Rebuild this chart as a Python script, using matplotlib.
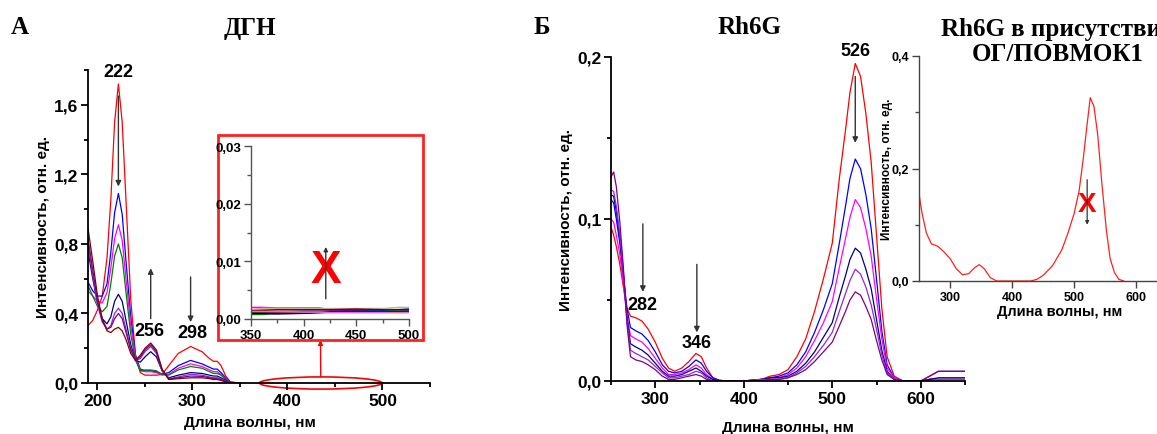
import matplotlib
matplotlib.use("Agg")
import matplotlib.pyplot as plt
from matplotlib.patches import Rectangle, Ellipse
from matplotlib.ticker import MultipleLocator, FuncFormatter

plt.rcParams['font.family'] = ['Liberation Sans', 'DejaVu Sans']
plt.rcParams['font.weight'] = 'bold'
plt.rcParams['axes.labelweight'] = 'bold'

# ---- panel A: ДГН ----
wl_a = [190, 195, 200, 205, 210, 214, 218, 222, 226, 230, 235, 240, 245, 250,
        256, 262, 268, 275, 285, 298, 310, 318, 322, 326, 330, 335, 340, 350]
a_red = [0.33, 0.36, 0.42, 0.50, 0.72, 1.05, 1.50, 1.72, 1.50, 1.05, 0.48, 0.16, 0.06, 0.045,
         0.045, 0.045, 0.05, 0.10, 0.17, 0.21, 0.18, 0.14, 0.125, 0.125, 0.10, 0.04, 0.005, 0.0]
a_blue = [0.58, 0.53, 0.50, 0.50, 0.57, 0.75, 0.98, 1.09, 0.97, 0.70, 0.38, 0.16, 0.08, 0.07,
          0.07, 0.065, 0.05, 0.06, 0.10, 0.13, 0.11, 0.09, 0.08, 0.08, 0.06, 0.03, 0.005, 0.0]
a_magenta = [0.53, 0.50, 0.47, 0.46, 0.52, 0.66, 0.83, 0.91, 0.82, 0.60, 0.33, 0.15, 0.07, 0.065,
             0.065, 0.06, 0.045, 0.05, 0.085, 0.11, 0.095, 0.075, 0.065, 0.065, 0.05, 0.025, 0.004, 0.0]
a_green = [0.56, 0.50, 0.44, 0.41, 0.44, 0.57, 0.73, 0.80, 0.72, 0.52, 0.28, 0.13, 0.07, 0.075,
           0.075, 0.07, 0.05, 0.045, 0.075, 0.095, 0.085, 0.065, 0.055, 0.055, 0.045, 0.02, 0.003, 0.0]
a_navy = [0.76, 0.60, 0.46, 0.37, 0.34, 0.38, 0.47, 0.51, 0.47, 0.36, 0.22, 0.13, 0.12, 0.15,
          0.18, 0.15, 0.07, 0.03, 0.045, 0.06, 0.055, 0.045, 0.04, 0.04, 0.03, 0.015, 0.002, 0.0]
a_violet = [0.80, 0.62, 0.45, 0.35, 0.31, 0.33, 0.40, 0.43, 0.40, 0.31, 0.20, 0.13, 0.14, 0.18,
            0.21, 0.17, 0.07, 0.025, 0.035, 0.05, 0.045, 0.035, 0.03, 0.03, 0.025, 0.01, 0.002, 0.0]
a_purple = [0.83, 0.65, 0.47, 0.36, 0.31, 0.32, 0.37, 0.40, 0.37, 0.29, 0.19, 0.13, 0.15, 0.19,
            0.22, 0.18, 0.075, 0.022, 0.03, 0.04, 0.038, 0.03, 0.025, 0.025, 0.02, 0.008, 0.001, 0.0]
a_maroon = [0.89, 0.70, 0.50, 0.37, 0.30, 0.29, 0.31, 0.32, 0.30, 0.25, 0.17, 0.13, 0.16, 0.20,
            0.23, 0.19, 0.08, 0.02, 0.025, 0.03, 0.03, 0.025, 0.02, 0.02, 0.015, 0.006, 0.001, 0.0]
a_series = [a_red, a_blue, a_magenta, a_green, a_navy, a_violet, a_purple, a_maroon]
a_colors = ['#ff0000', '#0000ff', '#ff00ff', '#008000', '#000080', '#8a2be2', '#800080', '#800000']

# inset of A, 350-500 nm
wl_ins = [350, 360, 375, 400, 415, 425, 450, 475, 490, 500]
ins_lines = [
    [0.0020, 0.0020, 0.0019, 0.0019, 0.0019, 0.0016, 0.0015, 0.0015, 0.0014, 0.0014],
    [0.0016, 0.0018, 0.0018, 0.0018, 0.0018, 0.0018, 0.0018, 0.0018, 0.0020, 0.0020],
    [0.0014, 0.0015, 0.0016, 0.0016, 0.0016, 0.0016, 0.0017, 0.0016, 0.0015, 0.0015],
    [0.0012, 0.0012, 0.0012, 0.0013, 0.0013, 0.0013, 0.0014, 0.0015, 0.0016, 0.0017],
    [0.0008, 0.0008, 0.0010, 0.0011, 0.0012, 0.0012, 0.0013, 0.0013, 0.0014, 0.0014],
    [0.0011, 0.0011, 0.0011, 0.0012, 0.0012, 0.0013, 0.0013, 0.0012, 0.0013, 0.0013],
    [0.0010, 0.0010, 0.0009, 0.0010, 0.0011, 0.0012, 0.0012, 0.0012, 0.0012, 0.0012],
    [0.0013, 0.0013, 0.0013, 0.0012, 0.0012, 0.0011, 0.0011, 0.0011, 0.0011, 0.0011],
]
ins_colors = ['#ff00ff', '#c8b88a', '#800000', '#0000ff', '#008000', '#800080', '#000000', '#e070c0']

# ---- panel Б: Rh6G ----
wl_b = [250, 253, 256, 260, 264, 268, 272, 278, 285, 292, 300, 308, 315, 322, 330, 338,
        346, 352, 358, 365, 372, 380, 400, 420, 430, 440, 450, 460, 470, 480, 490, 500,
        508, 515, 520, 526, 532, 538, 544, 550, 556, 562, 570, 580, 600, 610, 620, 650]
b_red = [0.095, 0.090, 0.083, 0.072, 0.058, 0.045, 0.040, 0.039, 0.037, 0.032, 0.024, 0.014,
         0.008, 0.006, 0.008, 0.012, 0.017, 0.015, 0.008, 0.002, 0.0005, 0.0, 0.0, 0.001,
         0.003, 0.004, 0.007, 0.015, 0.026, 0.043, 0.063, 0.085, 0.125, 0.155, 0.178, 0.196,
         0.188, 0.165, 0.135, 0.090, 0.045, 0.015, 0.003, 0.0, 0.0, 0.001, 0.001, 0.001]
b_blue = [0.112, 0.110, 0.100, 0.085, 0.065, 0.045, 0.033, 0.031, 0.029, 0.025, 0.018, 0.010,
          0.006, 0.005, 0.006, 0.009, 0.013, 0.011, 0.006, 0.002, 0.0005, 0.0, 0.0, 0.001,
          0.002, 0.003, 0.005, 0.010, 0.018, 0.030, 0.044, 0.060, 0.085, 0.108, 0.125, 0.137,
          0.131, 0.115, 0.094, 0.063, 0.031, 0.010, 0.002, 0.0, 0.0, 0.001, 0.001, 0.001]
b_magenta = [0.100, 0.098, 0.090, 0.078, 0.060, 0.040, 0.028, 0.026, 0.024, 0.020, 0.014, 0.008,
             0.004, 0.004, 0.005, 0.007, 0.010, 0.008, 0.004, 0.001, 0.0, 0.0, 0.0, 0.001,
             0.002, 0.002, 0.004, 0.008, 0.015, 0.025, 0.036, 0.049, 0.070, 0.088, 0.101, 0.112,
             0.107, 0.094, 0.077, 0.051, 0.026, 0.008, 0.002, 0.0, 0.0, 0.001, 0.001, 0.001]
b_navy = [0.115, 0.114, 0.105, 0.088, 0.066, 0.040, 0.023, 0.021, 0.019, 0.016, 0.011, 0.006,
          0.003, 0.003, 0.004, 0.006, 0.008, 0.006, 0.003, 0.001, 0.0, 0.0, 0.0, 0.001,
          0.002, 0.002, 0.003, 0.006, 0.011, 0.018, 0.027, 0.036, 0.052, 0.065, 0.075, 0.082,
          0.079, 0.069, 0.057, 0.038, 0.019, 0.006, 0.001, 0.0, 0.0, 0.001, 0.002, 0.002]
b_violet = [0.118, 0.117, 0.108, 0.090, 0.067, 0.038, 0.019, 0.017, 0.015, 0.013, 0.009, 0.005,
            0.002, 0.002, 0.003, 0.004, 0.006, 0.005, 0.002, 0.0, 0.0, 0.0, 0.0, 0.001,
            0.001, 0.001, 0.002, 0.005, 0.009, 0.015, 0.022, 0.030, 0.043, 0.054, 0.062, 0.069,
            0.066, 0.058, 0.047, 0.032, 0.016, 0.005, 0.001, 0.0, 0.0, 0.003, 0.006, 0.006]
b_purple = [0.126, 0.129, 0.120, 0.098, 0.070, 0.035, 0.015, 0.013, 0.012, 0.010, 0.007, 0.003,
            0.001, 0.001, 0.002, 0.003, 0.004, 0.003, 0.001, 0.0, 0.0, 0.0, 0.0, 0.0,
            0.001, 0.001, 0.002, 0.004, 0.007, 0.012, 0.018, 0.024, 0.034, 0.043, 0.050, 0.055,
            0.053, 0.046, 0.038, 0.025, 0.013, 0.004, 0.001, 0.0, 0.0, 0.003, 0.006, 0.006]
b_series = [b_red, b_blue, b_magenta, b_navy, b_violet, b_purple]
b_colors = ['#ff0000', '#0000ff', '#ff00ff', '#000080', '#8a2be2', '#800080']

# ---- inset: Rh6G в присутствии ОГ/ПОВМОК1 ----
wl_c = [250, 255, 262, 270, 280, 290, 300, 310, 320, 330, 340, 347, 355, 365, 375, 400, 430,
        440, 450, 465, 480, 490, 500, 508, 515, 520, 526, 532, 538, 545, 552, 558, 565, 572, 580]
c_red = [0.155, 0.12, 0.085, 0.066, 0.062, 0.052, 0.040, 0.022, 0.011, 0.013, 0.024, 0.029,
         0.022, 0.006, 0.0, 0.0, 0.0, 0.003, 0.01, 0.027, 0.055, 0.085, 0.12, 0.16, 0.22, 0.27,
         0.326, 0.31, 0.26, 0.17, 0.09, 0.04, 0.015, 0.003, 0.0]

W, H = 1157, 435
fig = plt.figure(figsize=(W / 100, H / 100), dpi=100)


def box(l, r, t, b):
    return [l / W, 1 - b / H, (r - l) / W, (b - t) / H]


def comma(nd):
    return FuncFormatter(lambda v, p: f"{v:.{nd}f}".replace('.', ','))


def style(ax, size, lw=1.3, col='black'):
    for s in ['top', 'right']:
        ax.spines[s].set_visible(False)
    for s in ['left', 'bottom']:
        ax.spines[s].set_linewidth(lw)
        ax.spines[s].set_color(col)
    ax.tick_params(which='both', direction='out', width=lw, color=col, labelsize=size, pad=2)
    ax.tick_params(which='major', length=5)
    ax.tick_params(which='minor', length=3)


arrow = dict(arrowstyle='-|>', color='#333333', lw=1.0, mutation_scale=8, shrinkA=0, shrinkB=0)

# main A
ax1 = fig.add_axes(box(88, 430, 71, 384))
for ys, c in zip(a_series, a_colors):
    ax1.plot(wl_a, ys, color=c, lw=0.9)
ax1.set_xlim(190, 550)
ax1.set_ylim(0, 1.8)
ax1.xaxis.set_major_locator(MultipleLocator(100))
ax1.xaxis.set_minor_locator(MultipleLocator(50))
ax1.yaxis.set_major_locator(MultipleLocator(0.4))
ax1.yaxis.set_minor_locator(MultipleLocator(0.2))
ax1.yaxis.set_major_formatter(comma(1))
style(ax1, 12.5)
ax1.set_xlabel("Длина волны, нм", fontsize=11)
ax1.set_ylabel("Интенсивность, отн. ед.", fontsize=11)
ax1.xaxis.set_label_coords(0.474, -0.102)
ax1.yaxis.set_label_coords(-0.111, 0.5)
ax1.annotate('', xy=(222, 1.13), xytext=(222, 1.65), arrowprops=arrow)
ax1.annotate('', xy=(256, 0.66), xytext=(256, 0.37), arrowprops=arrow)
ax1.annotate('', xy=(298, 0.35), xytext=(298, 0.61), arrowprops=arrow)
ax1.text(222, 1.79, "222", ha='center', va='center', fontsize=13, clip_on=False)
ax1.text(255, 0.30, "256", ha='center', va='center', fontsize=13)
ax1.text(300, 0.29, "298", ha='center', va='center', fontsize=13)
ax1.add_patch(Ellipse((435, 0.0), 129, 0.07, fill=False, ec='red', lw=1.2, clip_on=False))

# red frame for the inset of A
fl, fr, ft, fb = 218, 423, 136, 341
frame = Rectangle((fl / W, 1 - fb / H), (fr - fl) / W, (fb - ft) / H, transform=fig.transFigure,
                  fc='white', ec='#ff2020', lw=2, zorder=2)
fig.add_artist(frame)
ax1.annotate('', xy=((fl + fr) / 2 / W, 1 - fb / H), xycoords='figure fraction',
             xytext=(435, 0.035), textcoords='data',
             arrowprops=dict(arrowstyle='-|>', color='red', lw=1.0, mutation_scale=7,
                             shrinkA=0, shrinkB=0))

ax2 = fig.add_axes(box(251, 409, 147, 320))
ax2.set_zorder(3)
ax2.patch.set_alpha(0)
for ys, c in zip(ins_lines, ins_colors):
    ax2.plot(wl_ins, ys, color=c, lw=1.2)
ax2.set_xlim(350, 500)
ax2.set_ylim(0, 0.03)
ax2.xaxis.set_major_locator(MultipleLocator(50))
ax2.xaxis.set_minor_locator(MultipleLocator(25))
ax2.yaxis.set_major_locator(MultipleLocator(0.01))
ax2.yaxis.set_minor_locator(MultipleLocator(0.005))
ax2.yaxis.set_major_formatter(comma(2))
style(ax2, 9.5, lw=1.0, col='#555555')
ax2.text(421, 0.0085, "X", color='red', fontsize=33, ha='center', va='center')
ax2.annotate('', xy=(421, 0.0125), xytext=(421, 0.0035),
             arrowprops=dict(arrowstyle='-|>', color='#333333', lw=1.0, mutation_scale=6,
                             shrinkA=0, shrinkB=0))

# main Б
ax3 = fig.add_axes(box(611, 965, 58, 382))
for ys, c in zip(b_series, b_colors):
    ax3.plot(wl_b, ys, color=c, lw=0.9)
ax3.set_xlim(250, 650)
ax3.set_ylim(0, 0.2)
ax3.xaxis.set_major_locator(MultipleLocator(100))
ax3.xaxis.set_minor_locator(MultipleLocator(50))
ax3.yaxis.set_major_locator(MultipleLocator(0.1))
ax3.yaxis.set_minor_locator(MultipleLocator(0.05))
ax3.yaxis.set_major_formatter(comma(1))
style(ax3, 12.5)
ax3.set_xlabel("Длина волны, нм", fontsize=11)
ax3.set_ylabel("Интенсивность, отн. ед.", fontsize=11)
ax3.xaxis.set_label_coords(0.5, -0.120)
ax3.yaxis.set_label_coords(-0.107, 0.5)
ax3.annotate('', xy=(526, 0.147), xytext=(526, 0.188), arrowprops=arrow)
ax3.annotate('', xy=(286, 0.055), xytext=(286, 0.097), arrowprops=arrow)
ax3.annotate('', xy=(347, 0.030), xytext=(347, 0.072), arrowprops=arrow)
ax3.text(526, 0.204, "526", ha='center', va='center', fontsize=13, clip_on=False)
ax3.text(286, 0.047, "282", ha='center', va='center', fontsize=13)
ax3.text(347, 0.024, "346", ha='center', va='center', fontsize=13)

# inset Б
ax4 = fig.add_axes(box(919, 1161, 57, 282))
ax4.patch.set_alpha(0)
ax4.plot(wl_c, c_red, color='#ff2020', lw=0.9)
ax4.set_xlim(250, 640)
ax4.set_ylim(0, 0.4)
ax4.xaxis.set_major_locator(MultipleLocator(100))
ax4.yaxis.set_major_locator(MultipleLocator(0.2))
ax4.yaxis.set_minor_locator(MultipleLocator(0.1))
ax4.yaxis.set_major_formatter(comma(1))
style(ax4, 9, lw=1.0, col='#444444')
ax4.set_xlabel("Длина волны, нм", fontsize=10.5)
ax4.set_ylabel("Интенсивность, отн. ед.", fontsize=8.5)
ax4.xaxis.set_label_coords(0.583, -0.102)
ax4.yaxis.set_label_coords(-0.107, 0.5)
ax4.text(521, 0.136, "X", color='red', fontsize=20, ha='center', va='center')
ax4.annotate('', xy=(521, 0.10), xytext=(521, 0.18),
             arrowprops=dict(arrowstyle='-|>', color='#333333', lw=0.9, mutation_scale=5,
                             shrinkA=0, shrinkB=0))

# panel titles
serif = dict(family='Liberation Serif', weight='bold', fontsize=18, va='center')
fig.text(20 / W, 1 - 28 / H, "А", ha='center', **serif)
fig.text(250 / W, 1 - 28 / H, "ДГН", ha='center', **serif)
fig.text(542 / W, 1 - 28 / H, "Б", ha='center', **serif)
fig.text(750 / W, 1 - 28 / H, "Rh6G", ha='center', **serif)
fig.text(1058 / W, 1 - 42 / H, "Rh6G в присутствии\nОГ/ПОВМОК1", ha='center',
         linespacing=1.15, **serif)

fig.savefig("out.png", dpi=100)
